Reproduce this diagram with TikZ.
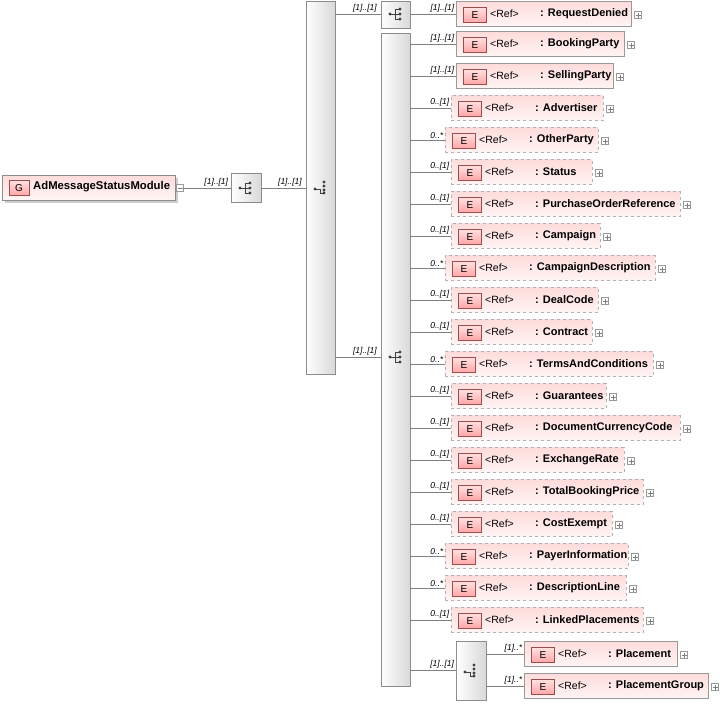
\documentclass[tikz,border=0pt]{standalone}
\usepackage{fontspec}
\setmainfont{Liberation Sans}
\begin{document}
\begin{tikzpicture}[x=1pt,y=-1pt,
  cbox/.style={draw=black!45,left color=white,right color=black!15,inner sep=0},
  ebox/.style={draw=black!40,top color=red!14,bottom color=red!4,inner sep=0,minimum height=25},
  opt/.style={dashed,draw=black!30},
  mult/.style={font=\fontsize{8.5}{9}\selectfont\itshape,anchor=south east,inner sep=1.5},
  con/.style={draw=black!50,line width=0.6},
  plus/.style={draw=black!40,fill=white,minimum size=7,inner sep=0}]
\useasboundingbox (0,0) rectangle (722,707);
\newcommand\seqicon[1]{%
  \begin{scope}[shift={(#1)}]
  \fill[black!75] (-7,0) circle (1.6);
  \draw[black!75,line width=0.8] (-7,0)--(-2,0) (-2,-5)--(-2,5) (-2,-5)--(3,-5) (-2,0)--(3,0) (-2,5)--(3,5);
  \fill[black!75] (3,-5) circle (1.7) (3,0) circle (1.7) (3,5) circle (1.7);
  \end{scope}}
\newcommand\choicon[1]{%
  \begin{scope}[shift={(#1)}]
  \fill[black!75] (-7,2) circle (1.6);
  \draw[black!75,line width=0.8] (-7,2)--(-2,2)--(-2,6)--(2,6);
  \fill[black!75] (2,-5) circle (1.7) (2,-1) circle (1.7) (2,3) circle (1.7) (2,6) circle (1.7);
  \end{scope}}
\tikzset{ebadge/.style={draw=red!45!black!70,top color=red!12,bottom color=red!35,minimum width=23,minimum height=15,inner sep=0,font=\fontsize{10}{11}\selectfont}}
% G box
\fill[black!20] (5,178) rectangle (178,203);
\node[draw=black!45,top color=red!14,bottom color=red!4,minimum width=173,minimum height=25,inner sep=0] (g) at (88.5,187.5) {};
\node[ebadge,minimum width=20] (gb) at (19,188) {G};
\node[anchor=west,font=\fontsize{11.3}{12}\selectfont\bfseries,inner sep=0] (gt) at (33,187) {AdMessageStatusModule};
\node[plus] (gm) at (180,188) {}; \draw[black!50] (177.5,188)--(182.5,188);
% sequence box 1
\node[cbox,minimum width=30,minimum height=29] (s1) at (246,188) {}; \seqicon{247,188}
% tall choice box
\node[cbox,minimum width=29,minimum height=373] (c1) at (320.5,187.5) {}; \choicon{322,187}
% upper seq
\node[cbox,minimum width=29,minimum height=27] (s2) at (395.5,14.5) {}; \seqicon{397,14}
% tall seq
\node[cbox,minimum width=29,minimum height=653] (s3) at (395.5,359.5) {}; \seqicon{397,357}
% final choice
\node[cbox,minimum width=30,minimum height=59] (c2) at (471,670.5) {}; \choicon{472,670}
\coordinate (c1a) at (335,14); \coordinate (c1b) at (335,357);
\draw[con] (gm.east)--(s1.west) node[mult,pos=0.98] {[1]..[1]};
\draw[con] (s1.east)--(c1.west|-s1.east) node[mult,pos=0.95] {[1]..[1]};
\draw[con] (c1a)--(s2.west|-c1a) node[mult,pos=0.95] {[1]..[1]};
\draw[con] (c1b)--(s3.west|-c1b) node[mult,pos=0.95] {[1]..[1]};
\newcommand\elem[7]{% name y left right mult text style
  \node[ebox,#7,minimum width=#4-#3,anchor=west] (#1) at (#3,#2) {};
  \node[ebadge] at (#3+19,#2+1) {E};
  \node[anchor=west,font=\fontsize{10.5}{11}\selectfont,inner sep=0] at (#3+34,#2) {<Ref>};
  \node[anchor=west,font=\fontsize{11}{12}\selectfont\bfseries,inner sep=0] at (#3+84,#2) {: #6};
  \node[plus] at (#4+7,#2+1) {}; \draw[black!50] (#4+4.5,#2+1)--(#4+9.5,#2+1) (#4+7,#2-1.5)--(#4+7,#2+3.5);
}
\elem{rd}{14}{456}{631}{}{RequestDenied}{}
\draw[con] (s2.east|-rd)--(rd.west) node[mult,pos=1] {[1]..[1]};
\foreach \n/\y/\l/\r/\m/\t/\s in {
 bp/44/456/624/[1]..[1]/BookingParty/,
 sp/76/456/613/[1]..[1]/SellingParty/,
 ad/108/451/603/0..[1]/Advertiser/opt,
 op/140/445/598/0..*/OtherParty/opt,
 st/172/451/592/0..[1]/Status/opt,
 po/204/451/680/0..[1]/PurchaseOrderReference/opt,
 ca/236/451/600/0..[1]/Campaign/opt,
 cd/268/445/655/0..*/CampaignDescription/opt,
 dc/300/451/598/0..[1]/DealCode/opt,
 ct/332/451/592/0..[1]/Contract/opt,
 tc/364/445/653/0..*/TermsAndConditions/opt,
 gu/396/451/606/0..[1]/Guarantees/opt,
 dcc/428/451/680/0..[1]/DocumentCurrencyCode/opt,
 er/460/451/624/0..[1]/ExchangeRate/opt,
 tb/492/451/643/0..[1]/TotalBookingPrice/opt,
 ce/524/451/612/0..[1]/CostExempt/opt,
 pi/556/445/628/0..*/PayerInformation/opt,
 dl/588/445/626/0..*/DescriptionLine/opt,
 lp/620/451/643/0..[1]/LinkedPlacements/opt}{
 \elem{\n}{\y}{\l}{\r}{}{\t}{\s}
 \draw[con] (s3.east|-\n.west)--(\n.west) node[mult,pos=1] {\m};
}
\draw[con] (s3.east|-c2.west)--(c2.west) node[mult,pos=1] {[1]..[1]};
\elem{pl}{654}{524}{677}{}{Placement}{}
\elem{pg}{686}{524}{708}{}{PlacementGroup}{}
\draw[con] (c2.east|-pl.west)--(pl.west) node[mult,pos=1] {[1]..*};
\draw[con] (c2.east|-pg.west)--(pg.west) node[mult,pos=1] {[1]..*};
\end{tikzpicture}
\end{document}
